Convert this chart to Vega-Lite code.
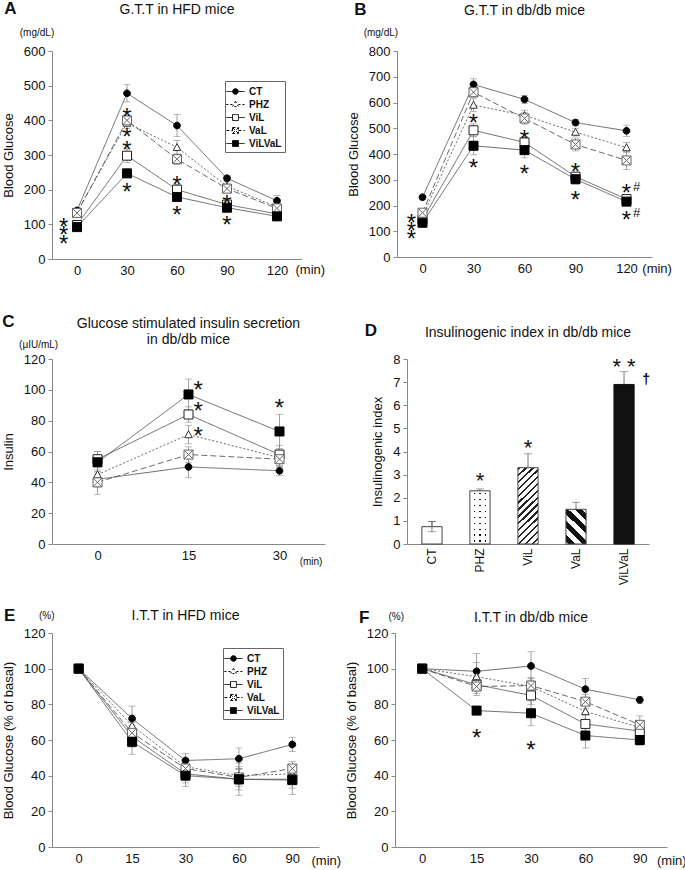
{
  "$schema": "https://vega.github.io/schema/vega-lite/v6.json",
  "padding": {"left": 2, "top": 0, "right": 0, "bottom": 0},
  "config": {
    "font": "Liberation Sans",
    "view": {"stroke": null},
    "axis": {"grid": false, "domainColor": "#888", "tickColor": "#888", "labelFontSize": 13, "labelColor": "#111", "titleFontSize": 13, "titleFontWeight": "normal", "titleColor": "#111", "titlePadding": 8},
    "axisX": {"ticks": false, "labelPadding": 5},
    "axisY": {"tickSize": 4, "labelPadding": 3},
    "title": {"fontSize": 14, "fontWeight": "normal", "color": "#111", "frame": "group"},
    "text": {"color": "#111"}
  },
  "datasets": {
    "A": [
      {"g":"CT","t":0,"v":140,"e":6},{"g":"CT","t":30,"v":478,"e":25},{"g":"CT","t":60,"v":385,"e":32},{"g":"CT","t":90,"v":233,"e":8},{"g":"CT","t":120,"v":168,"e":15},
      {"g":"PHZ","t":0,"v":135,"e":6},{"g":"PHZ","t":30,"v":392,"e":15},{"g":"PHZ","t":60,"v":322,"e":20},{"g":"PHZ","t":90,"v":210,"e":12},{"g":"PHZ","t":120,"v":150,"e":10},
      {"g":"ViL","t":0,"v":98,"e":6},{"g":"ViL","t":30,"v":298,"e":20},{"g":"ViL","t":60,"v":200,"e":15},{"g":"ViL","t":90,"v":157,"e":8},{"g":"ViL","t":120,"v":130,"e":8},
      {"g":"VaL","t":0,"v":133,"e":8},{"g":"VaL","t":30,"v":400,"e":15},{"g":"VaL","t":60,"v":288,"e":15},{"g":"VaL","t":90,"v":203,"e":12},{"g":"VaL","t":120,"v":146,"e":10},
      {"g":"ViLVaL","t":0,"v":92,"e":6},{"g":"ViLVaL","t":30,"v":247,"e":12},{"g":"ViLVaL","t":60,"v":179,"e":10},{"g":"ViLVaL","t":90,"v":148,"e":8},{"g":"ViLVaL","t":120,"v":123,"e":7}
    ],
    "B": [
      {"g":"CT","t":0,"v":232,"e":8},{"g":"CT","t":30,"v":670,"e":22},{"g":"CT","t":60,"v":612,"e":15},{"g":"CT","t":90,"v":522,"e":12},{"g":"CT","t":120,"v":490,"e":22},
      {"g":"PHZ","t":0,"v":160,"e":10},{"g":"PHZ","t":30,"v":590,"e":25},{"g":"PHZ","t":60,"v":550,"e":20},{"g":"PHZ","t":90,"v":485,"e":15},{"g":"PHZ","t":120,"v":425,"e":20},
      {"g":"ViL","t":0,"v":145,"e":12},{"g":"ViL","t":30,"v":492,"e":25},{"g":"ViL","t":60,"v":445,"e":22},{"g":"ViL","t":90,"v":312,"e":15},{"g":"ViL","t":120,"v":225,"e":15},
      {"g":"VaL","t":0,"v":172,"e":12},{"g":"VaL","t":30,"v":640,"e":20},{"g":"VaL","t":60,"v":538,"e":22},{"g":"VaL","t":90,"v":437,"e":25},{"g":"VaL","t":120,"v":375,"e":35},
      {"g":"ViLVaL","t":0,"v":133,"e":15},{"g":"ViLVaL","t":30,"v":432,"e":35},{"g":"ViLVaL","t":60,"v":415,"e":30},{"g":"ViLVaL","t":90,"v":302,"e":18},{"g":"ViLVaL","t":120,"v":215,"e":15}
    ],
    "C": [
      {"g":"CT","t":0,"v":42,"e":5},{"g":"CT","t":15,"v":50,"e":7},{"g":"CT","t":30,"v":47.5,"e":3},
      {"g":"PHZ","t":0,"v":45,"e":5},{"g":"PHZ","t":15,"v":71,"e":6},{"g":"PHZ","t":30,"v":56,"e":5},
      {"g":"ViL","t":0,"v":55,"e":5},{"g":"ViL","t":15,"v":84,"e":5},{"g":"ViL","t":30,"v":58,"e":6},
      {"g":"VaL","t":0,"v":40,"e":8},{"g":"VaL","t":15,"v":58,"e":5},{"g":"VaL","t":30,"v":55,"e":5},
      {"g":"ViLVaL","t":0,"v":53,"e":7},{"g":"ViLVaL","t":15,"v":97,"e":10},{"g":"ViLVaL","t":30,"v":73,"e":11}
    ],
    "D": [
      {"g":"CT","v":0.75,"e":0.22},{"g":"PHZ","v":2.3,"e":0.08},{"g":"ViL","v":3.3,"e":0.6},{"g":"VaL","v":1.5,"e":0.3},{"g":"ViLVaL","v":6.9,"e":0.55}
    ],
    "E": [
      {"g":"CT","t":0,"v":100,"e":0},{"g":"CT","t":15,"v":72,"e":7},{"g":"CT","t":30,"v":48.5,"e":4},{"g":"CT","t":60,"v":49.5,"e":6},{"g":"CT","t":90,"v":57.5,"e":4},
      {"g":"PHZ","t":0,"v":100,"e":0},{"g":"PHZ","t":15,"v":68,"e":6},{"g":"PHZ","t":30,"v":45,"e":4},{"g":"PHZ","t":60,"v":40,"e":5},{"g":"PHZ","t":90,"v":41,"e":4},
      {"g":"ViL","t":0,"v":100,"e":0},{"g":"ViL","t":15,"v":62,"e":6},{"g":"ViL","t":30,"v":41,"e":5},{"g":"ViL","t":60,"v":38,"e":6},{"g":"ViL","t":90,"v":38,"e":5},
      {"g":"VaL","t":0,"v":100,"e":0},{"g":"VaL","t":15,"v":64,"e":6},{"g":"VaL","t":30,"v":44,"e":5},{"g":"VaL","t":60,"v":39,"e":5},{"g":"VaL","t":90,"v":44,"e":4},
      {"g":"ViLVaL","t":0,"v":100,"e":0},{"g":"ViLVaL","t":15,"v":59,"e":7},{"g":"ViLVaL","t":30,"v":40,"e":6},{"g":"ViLVaL","t":60,"v":38,"e":9},{"g":"ViLVaL","t":90,"v":37.5,"e":8}
    ],
    "F": [
      {"g":"CT","t":0,"v":100,"e":0},{"g":"CT","t":15,"v":98.5,"e":10},{"g":"CT","t":30,"v":101.5,"e":8},{"g":"CT","t":60,"v":88.5,"e":6},{"g":"CT","t":90,"v":82.5,"e":2},
      {"g":"PHZ","t":0,"v":100,"e":0},{"g":"PHZ","t":15,"v":95.5,"e":8},{"g":"PHZ","t":30,"v":90,"e":5},{"g":"PHZ","t":60,"v":76,"e":5},{"g":"PHZ","t":90,"v":67,"e":4},
      {"g":"ViL","t":0,"v":100,"e":0},{"g":"ViL","t":15,"v":91,"e":5},{"g":"ViL","t":30,"v":85,"e":5},{"g":"ViL","t":60,"v":69,"e":5},{"g":"ViL","t":90,"v":65,"e":4},
      {"g":"VaL","t":0,"v":100,"e":0},{"g":"VaL","t":15,"v":90,"e":5},{"g":"VaL","t":30,"v":90.5,"e":4},{"g":"VaL","t":60,"v":81.5,"e":4},{"g":"VaL","t":90,"v":68.5,"e":5},
      {"g":"ViLVaL","t":0,"v":100,"e":0},{"g":"ViLVaL","t":15,"v":76.5,"e":2},{"g":"ViLVaL","t":30,"v":75,"e":7},{"g":"ViLVaL","t":60,"v":62.5,"e":7},{"g":"ViLVaL","t":90,"v":60,"e":3}
    ]
  },
  "resolve": {"scale": {"shape": "independent", "fill": "independent", "strokeDash": "independent", "stroke": "independent"}},
  "spacing": 35,
  "vconcat": [
    {
      "spacing": 21,
      "resolve": {"scale": {"shape": "independent", "fill": "independent", "strokeDash": "independent", "stroke": "independent"}},
      "hconcat": [
        {
          "width": 250, "height": 208,
          "title": {"text": "G.T.T in HFD mice", "offset": -17},
          "data": {"name": "A"},
          "encoding": {
            "x": {"field": "t", "type": "quantitative", "scale": {"domain": [-15, 135]}, "axis": {"values": [0, 30, 60, 90, 120], "title": null}},
            "y": {"field": "v", "type": "quantitative", "scale": {"domain": [0, 600]}, "axis": {"values": [0, 100, 200, 300, 400, 500, 600], "title": "Blood Glucose"}}
          },
          "resolve": {"scale": {"shape": "independent", "fill": "independent", "strokeDash": "independent", "stroke": "independent"}},
          "layer": [
            {"mark": {"type": "line", "color": "#444", "strokeWidth": 0.8},
             "encoding": {"strokeDash": {"field": "g", "type": "nominal", "scale": {"domain": ["CT","PHZ","ViL","VaL","ViLVaL"], "range": [[1,0],[2,2],[1,0],[6,3],[1,0]]}, "legend": null}}},
            {"mark": {"type": "errorbar", "ticks": true, "size": 7, "thickness": 0.8, "color": "#888"},
             "encoding": {"yError": {"field": "e"}}},
            {"mark": {"type": "point", "filled": false, "opacity": 1, "strokeWidth": 1, "size": 81},
             "encoding": {
               "shape": {"field": "g", "type": "nominal", "scale": {"domain": ["CT","PHZ","ViL","VaL","ViLVaL"], "range": ["M0.75,0A0.75,0.75,0,1,1,-0.75,0A0.75,0.75,0,1,1,0.75,0Z", "M0,-0.85L0.85,0.7H-0.85Z", "M-1,-1H1V1H-1Z", "M-1,-1H1V1H-1ZM-1,-1L1,1M1,-1L-1,1", "M-1,-1H1V1H-1Z"]}, "legend": null},
               "fill": {"field": "g", "type": "nominal", "scale": {"domain": ["CT","PHZ","ViL","VaL","ViLVaL"], "range": ["#000","#fff","#fff","#fff","#000"]}, "legend": null},
               "stroke": {"field": "g", "type": "nominal", "scale": {"domain": ["CT","PHZ","ViL","VaL","ViLVaL"], "range": ["#000","#333","#222","#666","#000"]}, "legend": null}
             }},
            {"data": {"values": [{"t":30,"v":427},{"t":30,"v":369},{"t":30,"v":332},{"t":30,"v":211},{"t":60,"v":230},{"t":60,"v":144},{"t":90,"v":176},{"t":90,"v":115},{"t":-8,"v":110},{"t":-8,"v":86},{"t":-8,"v":61}]},
             "mark": {"type": "text", "text": "*", "fontSize": 24, "baseline": "alphabetic", "dy": 14}},
            {"data": {"values": [{"t": -40, "v": 721}]}, "mark": {"type": "text", "text": "A", "fontSize": 17, "fontWeight": "bold", "baseline": "middle"}},
            {"data": {"values": [{"t": -24, "v": 651}]}, "mark": {"type": "text", "text": "(mg/dL)", "fontSize": 10, "baseline": "middle"}},
            {"data": {"values": [{"t": 140, "v": -33}]}, "mark": {"type": "text", "text": "(min)", "fontSize": 13, "baseline": "middle"}},
            {"transform": [{"filter": "false"}],
             "mark": {"type": "point", "filled": false, "opacity": 1, "color": "#000", "strokeWidth": 1},
             "encoding": {
               "shape": {"field": "g", "type": "nominal", "scale": {"domain": ["CT","PHZ","ViL","VaL","ViLVaL"], "range": ["M-1.3,0H-0.4M0.4,0H1.3M0.4,0A0.4,0.4,0,1,1,-0.4,0A0.4,0.4,0,1,1,0.4,0Z", "M-1.3,0H-0.42M0.42,0H1.3M0,-0.45L0.42,0.3H-0.42Z", "M-1.3,0H-0.42M0.42,0H1.3M-0.42,-0.42H0.42V0.42H-0.42Z", "M-1.3,0H-0.42M0.42,0H1.3M-0.42,-0.42H0.42V0.42H-0.42ZM-0.42,-0.42L0.42,0.42M0.42,-0.42L-0.42,0.42", "M-1.3,0H-0.42M0.42,0H1.3M-0.42,-0.42H0.42V0.42H-0.42Z"]},
                 "legend": {"orient": "none", "legendX": 173, "legendY": 30, "title": null, "labelFontWeight": "bold", "labelFontSize": 10, "labelColor": "#111", "symbolSize": 196, "symbolStrokeWidth": 1, "strokeColor": "#666", "fillColor": "#fff", "padding": 3, "rowPadding": 0, "labelOffset": 6}},
               "fill": {"field": "g", "type": "nominal", "scale": {"domain": ["CT","PHZ","ViL","VaL","ViLVaL"], "range": ["#000","#fff","#fff","#fff","#000"]},
                 "legend": {"orient": "none", "legendX": 173, "legendY": 30, "title": null, "labelFontWeight": "bold", "labelFontSize": 10, "labelColor": "#111", "symbolSize": 196, "symbolStrokeWidth": 1, "strokeColor": "#666", "fillColor": "#fff", "padding": 3, "rowPadding": 0, "labelOffset": 6}},
               "strokeDash": {"field": "g", "type": "nominal", "scale": {"domain": ["CT","PHZ","ViL","VaL","ViLVaL"], "range": [[1,0],[2,2],[1,0],[3,2],[1,0]]},
                 "legend": {"orient": "none", "legendX": 173, "legendY": 30, "title": null, "labelFontWeight": "bold", "labelFontSize": 10, "labelColor": "#111", "symbolSize": 196, "symbolStrokeWidth": 1, "strokeColor": "#666", "fillColor": "#fff", "padding": 3, "rowPadding": 0, "labelOffset": 6}}
             }}
          ]
        },
        {
          "width": 255, "height": 206,
          "title": {"text": "G.T.T in db/db mice", "offset": -17},
          "data": {"name": "B"},
          "encoding": {
            "x": {"field": "t", "type": "quantitative", "scale": {"domain": [-15, 135]}, "axis": {"values": [0, 30, 60, 90, 120], "title": null}},
            "y": {"field": "v", "type": "quantitative", "scale": {"domain": [0, 800]}, "axis": {"values": [0, 100, 200, 300, 400, 500, 600, 700, 800], "title": "Blood Glucose"}}
          },
          "resolve": {"scale": {"shape": "independent", "fill": "independent", "strokeDash": "independent", "stroke": "independent"}},
          "layer": [
            {"mark": {"type": "line", "color": "#444", "strokeWidth": 0.8},
             "encoding": {"strokeDash": {"field": "g", "type": "nominal", "scale": {"domain": ["CT","PHZ","ViL","VaL","ViLVaL"], "range": [[1,0],[2,2],[1,0],[6,3],[1,0]]}, "legend": null}}},
            {"mark": {"type": "errorbar", "ticks": true, "size": 7, "thickness": 0.8, "color": "#888"},
             "encoding": {"yError": {"field": "e"}}},
            {"mark": {"type": "point", "filled": false, "opacity": 1, "strokeWidth": 1, "size": 81},
             "encoding": {
               "shape": {"field": "g", "type": "nominal", "scale": {"domain": ["CT","PHZ","ViL","VaL","ViLVaL"], "range": ["M0.75,0A0.75,0.75,0,1,1,-0.75,0A0.75,0.75,0,1,1,0.75,0Z", "M0,-0.85L0.85,0.7H-0.85Z", "M-1,-1H1V1H-1Z", "M-1,-1H1V1H-1ZM-1,-1L1,1M1,-1L-1,1", "M-1,-1H1V1H-1Z"]}, "legend": null},
               "fill": {"field": "g", "type": "nominal", "scale": {"domain": ["CT","PHZ","ViL","VaL","ViLVaL"], "range": ["#000","#fff","#fff","#fff","#000"]}, "legend": null},
               "stroke": {"field": "g", "type": "nominal", "scale": {"domain": ["CT","PHZ","ViL","VaL","ViLVaL"], "range": ["#000","#333","#222","#666","#000"]}, "legend": null}
             }},
            {"data": {"values": [{"t":-6.5,"v":155},{"t":-6.5,"v":125},{"t":-6.5,"v":95},{"t":30,"v":542},{"t":30,"v":367},{"t":60,"v":483},{"t":60,"v":346},{"t":90,"v":353},{"t":90,"v":246},{"t":120,"v":270},{"t":120,"v":168}]},
             "mark": {"type": "text", "text": "*", "fontSize": 24, "baseline": "alphabetic", "dy": 14}},
            {"data": {"values": [{"t":126,"v":272},{"t":126,"v":170}]},
             "mark": {"type": "text", "text": "#", "fontSize": 13, "baseline": "middle"}},
            {"data": {"values": [{"t": -36.6, "v": 959}]}, "mark": {"type": "text", "text": "B", "fontSize": 17, "fontWeight": "bold", "baseline": "middle"}},
            {"data": {"values": [{"t": -24.5, "v": 869}]}, "mark": {"type": "text", "text": "(mg/dL)", "fontSize": 10, "baseline": "middle"}},
            {"data": {"values": [{"t": 138, "v": -48}]}, "mark": {"type": "text", "text": "(min)", "fontSize": 13, "baseline": "middle"}}
          ]
        }
      ]
    },
    {
      "spacing": 21,
      "resolve": {"scale": {"shape": "independent", "fill": "independent", "strokeDash": "independent", "stroke": "independent"}},
      "vconcat": [
        {
          "spacing": 39,
          "resolve": {"scale": {"shape": "independent", "fill": "independent", "strokeDash": "independent", "stroke": "independent"}},
          "hconcat": [
            {
              "width": 273, "height": 185,
              "title": {"text": ["Glucose stimulated insulin secretion", "in db/db mice"], "offset": -34},
              "data": {"name": "C"},
              "encoding": {
                "x": {"field": "t", "type": "quantitative", "scale": {"domain": [-7.5, 37.5]}, "axis": {"values": [0, 15, 30], "title": null}},
                "y": {"field": "v", "type": "quantitative", "scale": {"domain": [0, 120]}, "axis": {"values": [0, 20, 40, 60, 80, 100, 120], "title": "Insulin"}}
              },
              "resolve": {"scale": {"shape": "independent", "fill": "independent", "strokeDash": "independent", "stroke": "independent"}},
              "layer": [
                {"mark": {"type": "line", "color": "#444", "strokeWidth": 0.8},
                 "encoding": {"strokeDash": {"field": "g", "type": "nominal", "scale": {"domain": ["CT","PHZ","ViL","VaL","ViLVaL"], "range": [[1,0],[2,2],[1,0],[6,3],[1,0]]}, "legend": null}}},
                {"mark": {"type": "errorbar", "ticks": true, "size": 7, "thickness": 0.8, "color": "#888"},
                 "encoding": {"yError": {"field": "e"}}},
                {"mark": {"type": "point", "filled": false, "opacity": 1, "strokeWidth": 1, "size": 81},
                 "encoding": {
                   "shape": {"field": "g", "type": "nominal", "scale": {"domain": ["CT","PHZ","ViL","VaL","ViLVaL"], "range": ["M0.75,0A0.75,0.75,0,1,1,-0.75,0A0.75,0.75,0,1,1,0.75,0Z", "M0,-0.85L0.85,0.7H-0.85Z", "M-1,-1H1V1H-1Z", "M-1,-1H1V1H-1ZM-1,-1L1,1M1,-1L-1,1", "M-1,-1H1V1H-1Z"]}, "legend": null},
                   "fill": {"field": "g", "type": "nominal", "scale": {"domain": ["CT","PHZ","ViL","VaL","ViLVaL"], "range": ["#000","#fff","#fff","#fff","#000"]}, "legend": null},
                   "stroke": {"field": "g", "type": "nominal", "scale": {"domain": ["CT","PHZ","ViL","VaL","ViLVaL"], "range": ["#000","#333","#222","#666","#000"]}, "legend": null}
                 }},
                {"data": {"values": [{"t":16.6,"v":104},{"t":16.6,"v":90},{"t":16.6,"v":74},{"t":30,"v":92}]},
                 "mark": {"type": "text", "text": "*", "fontSize": 24, "baseline": "alphabetic", "dy": 14}},
                {"data": {"values": [{"t": -14.7, "v": 143.7}]}, "mark": {"type": "text", "text": "C", "fontSize": 17, "fontWeight": "bold", "baseline": "middle"}},
                {"data": {"values": [{"t": -9.7, "v": 129.4}]}, "mark": {"type": "text", "text": "(μIU/mL)", "fontSize": 10, "baseline": "middle"}},
                {"data": {"values": [{"t": 35.2, "v": -11.7}]}, "mark": {"type": "text", "text": "(min)", "fontSize": 10, "baseline": "middle"}}
              ]
            },
            {
              "width": 242, "height": 185,
              "title": {"text": "Insulinogenic index in db/db mice", "offset": -18},
              "data": {"name": "D"},
              "encoding": {
                "x": {"field": "g", "type": "nominal", "scale": {"domain": ["CT","PHZ","ViL","VaL","ViLVaL"], "paddingInner": 0.58, "paddingOuter": 0.31}, "axis": {"labelAngle": -90, "title": null, "labelPadding": 4, "labelFontSize": 12}},
                "y": {"field": "v", "type": "quantitative", "scale": {"domain": [0, 8]}, "axis": {"values": [0, 1, 2, 3, 4, 5, 6, 7, 8], "title": "Insulinogenic index"}}
              },
              "layer": [
                {"mark": {"type": "errorbar", "ticks": true, "size": 8, "thickness": 0.9, "color": "#666"},
                 "encoding": {"yError": {"field": "e"}}},
                {"transform": [{"filter": "datum.g === 'CT'"}],
                 "mark": {"type": "bar", "fill": "#fff", "stroke": "#444", "strokeWidth": 1}},
                {"transform": [{"filter": "datum.g === 'PHZ'"}],
                 "mark": {"type": "bar", "strokeWidth": 0, "fill": {"gradient": "linear", "x1": 0, "y1": 0, "x2": 1, "y2": 0, "stops": [
                   {"offset": 0, "color": "#fff"}, {"offset": 0.2, "color": "#fff"}, {"offset": 0.2, "color": "#111"}, {"offset": 0.26, "color": "#111"}, {"offset": 0.26, "color": "#fff"},
                   {"offset": 0.47, "color": "#fff"}, {"offset": 0.47, "color": "#111"}, {"offset": 0.53, "color": "#111"}, {"offset": 0.53, "color": "#fff"},
                   {"offset": 0.74, "color": "#fff"}, {"offset": 0.74, "color": "#111"}, {"offset": 0.8, "color": "#111"}, {"offset": 0.8, "color": "#fff"}, {"offset": 1, "color": "#fff"}]}}},
                {"transform": [{"filter": "datum.g === 'PHZ'"}],
                 "mark": {"type": "bar", "stroke": "#444", "strokeWidth": 1, "fill": {"gradient": "linear", "x1": 0, "y1": 0, "x2": 0, "y2": 1, "stops": [
                   {"offset": 0, "color": "#fff"}, {"offset": 0.0436, "color": "#fff"}, {"offset": 0.0436, "color": "rgba(255,255,255,0)"}, {"offset": 0.0676, "color": "rgba(255,255,255,0)"}, {"offset": 0.0676, "color": "#fff"},
                   {"offset": 0.1547, "color": "#fff"}, {"offset": 0.1547, "color": "rgba(255,255,255,0)"}, {"offset": 0.1787, "color": "rgba(255,255,255,0)"}, {"offset": 0.1787, "color": "#fff"},
                   {"offset": 0.2658, "color": "#fff"}, {"offset": 0.2658, "color": "rgba(255,255,255,0)"}, {"offset": 0.2898, "color": "rgba(255,255,255,0)"}, {"offset": 0.2898, "color": "#fff"},
                   {"offset": 0.3769, "color": "#fff"}, {"offset": 0.3769, "color": "rgba(255,255,255,0)"}, {"offset": 0.4009, "color": "rgba(255,255,255,0)"}, {"offset": 0.4009, "color": "#fff"},
                   {"offset": 0.488, "color": "#fff"}, {"offset": 0.488, "color": "rgba(255,255,255,0)"}, {"offset": 0.512, "color": "rgba(255,255,255,0)"}, {"offset": 0.512, "color": "#fff"},
                   {"offset": 0.5991, "color": "#fff"}, {"offset": 0.5991, "color": "rgba(255,255,255,0)"}, {"offset": 0.6231, "color": "rgba(255,255,255,0)"}, {"offset": 0.6231, "color": "#fff"},
                   {"offset": 0.7102, "color": "#fff"}, {"offset": 0.7102, "color": "rgba(255,255,255,0)"}, {"offset": 0.7342, "color": "rgba(255,255,255,0)"}, {"offset": 0.7342, "color": "#fff"},
                   {"offset": 0.8213, "color": "#fff"}, {"offset": 0.8213, "color": "rgba(255,255,255,0)"}, {"offset": 0.8453, "color": "rgba(255,255,255,0)"}, {"offset": 0.8453, "color": "#fff"},
                   {"offset": 0.9324, "color": "#fff"}, {"offset": 0.9324, "color": "rgba(255,255,255,0)"}, {"offset": 0.9564, "color": "rgba(255,255,255,0)"}, {"offset": 0.9564, "color": "#fff"}, {"offset": 1, "color": "#fff"}]}}},
                {"transform": [{"filter": "datum.g === 'ViL'"}],
                 "mark": {"type": "bar", "stroke": "#444", "strokeWidth": 1, "fill": {"gradient": "linear", "x1": 0, "y1": 0, "x2": 0.304, "y2": 1.18, "stops": [
                   {"offset": 0, "color": "#222"}, {"offset": 0.025, "color": "#222"}, {"offset": 0.025, "color": "#fff"},
                   {"offset": 0.0714, "color": "#fff"}, {"offset": 0.0714, "color": "#222"}, {"offset": 0.0964, "color": "#222"}, {"offset": 0.0964, "color": "#fff"},
                   {"offset": 0.1429, "color": "#fff"}, {"offset": 0.1429, "color": "#222"}, {"offset": 0.1679, "color": "#222"}, {"offset": 0.1679, "color": "#fff"},
                   {"offset": 0.2143, "color": "#fff"}, {"offset": 0.2143, "color": "#222"}, {"offset": 0.2393, "color": "#222"}, {"offset": 0.2393, "color": "#fff"},
                   {"offset": 0.2857, "color": "#fff"}, {"offset": 0.2857, "color": "#222"}, {"offset": 0.3107, "color": "#222"}, {"offset": 0.3107, "color": "#fff"},
                   {"offset": 0.3571, "color": "#fff"}, {"offset": 0.3571, "color": "#222"}, {"offset": 0.3821, "color": "#222"}, {"offset": 0.3821, "color": "#fff"},
                   {"offset": 0.4286, "color": "#fff"}, {"offset": 0.4286, "color": "#222"}, {"offset": 0.4536, "color": "#222"}, {"offset": 0.4536, "color": "#fff"},
                   {"offset": 0.5, "color": "#fff"}, {"offset": 0.5, "color": "#222"}, {"offset": 0.525, "color": "#222"}, {"offset": 0.525, "color": "#fff"},
                   {"offset": 0.5714, "color": "#fff"}, {"offset": 0.5714, "color": "#222"}, {"offset": 0.5964, "color": "#222"}, {"offset": 0.5964, "color": "#fff"},
                   {"offset": 0.6429, "color": "#fff"}, {"offset": 0.6429, "color": "#222"}, {"offset": 0.6679, "color": "#222"}, {"offset": 0.6679, "color": "#fff"},
                   {"offset": 0.7143, "color": "#fff"}, {"offset": 0.7143, "color": "#222"}, {"offset": 0.7393, "color": "#222"}, {"offset": 0.7393, "color": "#fff"},
                   {"offset": 0.7857, "color": "#fff"}, {"offset": 0.7857, "color": "#222"}, {"offset": 0.8107, "color": "#222"}, {"offset": 0.8107, "color": "#fff"},
                   {"offset": 0.8571, "color": "#fff"}, {"offset": 0.8571, "color": "#222"}, {"offset": 0.8821, "color": "#222"}, {"offset": 0.8821, "color": "#fff"},
                   {"offset": 0.9286, "color": "#fff"}, {"offset": 0.9286, "color": "#222"}, {"offset": 0.9536, "color": "#222"}, {"offset": 0.9536, "color": "#fff"}, {"offset": 1, "color": "#fff"}]}}},
                {"transform": [{"filter": "datum.g === 'VaL'"}],
                 "mark": {"type": "bar", "stroke": "#444", "strokeWidth": 1, "fill": {"gradient": "linear", "x1": 0, "y1": 1, "x2": 0.672, "y2": -0.186, "stops": [
                   {"offset": 0, "color": "#fff"}, {"offset": 0.05, "color": "#fff"}, {"offset": 0.05, "color": "#111"}, {"offset": 0.18, "color": "#111"}, {"offset": 0.18, "color": "#fff"},
                   {"offset": 0.3, "color": "#fff"}, {"offset": 0.3, "color": "#111"}, {"offset": 0.43, "color": "#111"}, {"offset": 0.43, "color": "#fff"},
                   {"offset": 0.55, "color": "#fff"}, {"offset": 0.55, "color": "#111"}, {"offset": 0.68, "color": "#111"}, {"offset": 0.68, "color": "#fff"},
                   {"offset": 0.8, "color": "#fff"}, {"offset": 0.8, "color": "#111"}, {"offset": 0.93, "color": "#111"}, {"offset": 0.93, "color": "#fff"}, {"offset": 1, "color": "#fff"}]}}},
                {"transform": [{"filter": "datum.g === 'ViLVaL'"}],
                 "mark": {"type": "bar", "fill": "#111", "stroke": "#111", "strokeWidth": 1}},
                {"transform": [{"filter": "datum.g === 'CT'"}],
                 "mark": {"type": "errorbar", "ticks": true, "size": 8, "thickness": 0.9, "color": "#666"},
                 "encoding": {"yError": {"field": "e"}}},
                {"data": {"values": [{"g":"PHZ","v":3.0,"s":"*"},{"g":"ViL","v":4.4,"s":"*"},{"g":"ViLVaL","v":7.9,"s":"* *"}]},
                 "mark": {"type": "text", "fontSize": 22, "baseline": "alphabetic", "dy": 13, "fill": "#111"},
                 "encoding": {"text": {"field": "s"}}},
                {"data": {"values": [{"g":"ViLVaL","v":7.1}]},
                 "mark": {"type": "text", "text": "†", "fontSize": 14, "fontWeight": "bold", "baseline": "middle", "dx": 22, "fill": "#000"}},
                {"data": {"values": [{"g":"CT","v":9.2}]},
                 "mark": {"type": "text", "text": "D", "fontSize": 17, "fontWeight": "bold", "baseline": "middle", "dx": -61}}
              ]
            }
          ]
        },
        {
          "spacing": 3,
          "resolve": {"scale": {"shape": "independent", "fill": "independent", "strokeDash": "independent", "stroke": "independent"}},
          "hconcat": [
            {
              "width": 267, "height": 214,
              "title": {"text": "I.T.T in HFD mice", "offset": -16},
              "data": {"name": "E"},
              "encoding": {
                "x": {"field": "t", "type": "ordinal", "scale": {"type": "point", "padding": 0.5, "domain": [0, 15, 30, 60, 90]}, "axis": {"labelAngle": 0, "title": null}},
                "y": {"field": "v", "type": "quantitative", "scale": {"domain": [0, 120]}, "axis": {"values": [0, 20, 40, 60, 80, 100, 120], "title": "Blood Glucose (% of basal)"}}
              },
              "resolve": {"scale": {"shape": "independent", "fill": "independent", "strokeDash": "independent", "stroke": "independent"}},
              "layer": [
                {"mark": {"type": "line", "color": "#444", "strokeWidth": 0.8},
                 "encoding": {"strokeDash": {"field": "g", "type": "nominal", "scale": {"domain": ["CT","PHZ","ViL","VaL","ViLVaL"], "range": [[1,0],[2,2],[1,0],[6,3],[1,0]]}, "legend": null}}},
                {"mark": {"type": "errorbar", "ticks": true, "size": 7, "thickness": 0.8, "color": "#888"},
                 "encoding": {"yError": {"field": "e"}}},
                {"mark": {"type": "point", "filled": false, "opacity": 1, "strokeWidth": 1, "size": 81},
                 "encoding": {
                   "shape": {"field": "g", "type": "nominal", "scale": {"domain": ["CT","PHZ","ViL","VaL","ViLVaL"], "range": ["M0.75,0A0.75,0.75,0,1,1,-0.75,0A0.75,0.75,0,1,1,0.75,0Z", "M0,-0.85L0.85,0.7H-0.85Z", "M-1,-1H1V1H-1Z", "M-1,-1H1V1H-1ZM-1,-1L1,1M1,-1L-1,1", "M-1,-1H1V1H-1Z"]}, "legend": null},
                   "fill": {"field": "g", "type": "nominal", "scale": {"domain": ["CT","PHZ","ViL","VaL","ViLVaL"], "range": ["#000","#fff","#fff","#fff","#000"]}, "legend": null},
                   "stroke": {"field": "g", "type": "nominal", "scale": {"domain": ["CT","PHZ","ViL","VaL","ViLVaL"], "range": ["#000","#333","#222","#666","#000"]}, "legend": null}
                 }},
                {"data": {"values": [{"t": 0, "v": 129.6}]}, "mark": {"type": "text", "text": "E", "fontSize": 17, "fontWeight": "bold", "baseline": "middle", "dx": -69}},
                {"data": {"values": [{"t": 0, "v": 129.4}]}, "mark": {"type": "text", "text": "(%)", "fontSize": 10, "baseline": "middle", "dx": -32}},
                {"data": {"values": [{"t": 90, "v": -8}]}, "mark": {"type": "text", "text": "(min)", "fontSize": 13, "baseline": "middle", "dx": 34}},
                {"transform": [{"filter": "false"}],
                 "mark": {"type": "point", "filled": false, "opacity": 1, "color": "#000", "strokeWidth": 1},
                 "encoding": {
                   "shape": {"field": "g", "type": "nominal", "scale": {"domain": ["CT","PHZ","ViL","VaL","ViLVaL"], "range": ["M-1.3,0H-0.4M0.4,0H1.3M0.4,0A0.4,0.4,0,1,1,-0.4,0A0.4,0.4,0,1,1,0.4,0Z", "M-1.3,0H-0.42M0.42,0H1.3M0,-0.45L0.42,0.3H-0.42Z", "M-1.3,0H-0.42M0.42,0H1.3M-0.42,-0.42H0.42V0.42H-0.42Z", "M-1.3,0H-0.42M0.42,0H1.3M-0.42,-0.42H0.42V0.42H-0.42ZM-0.42,-0.42L0.42,0.42M0.42,-0.42L-0.42,0.42", "M-1.3,0H-0.42M0.42,0H1.3M-0.42,-0.42H0.42V0.42H-0.42Z"]},
                     "legend": {"orient": "none", "legendX": 171, "legendY": 15, "title": null, "labelFontWeight": "bold", "labelFontSize": 10, "labelColor": "#111", "symbolSize": 196, "symbolStrokeWidth": 1, "strokeColor": "#666", "fillColor": "#fff", "padding": 3, "rowPadding": 0, "labelOffset": 6}},
                   "fill": {"field": "g", "type": "nominal", "scale": {"domain": ["CT","PHZ","ViL","VaL","ViLVaL"], "range": ["#000","#fff","#fff","#fff","#000"]},
                     "legend": {"orient": "none", "legendX": 171, "legendY": 15, "title": null, "labelFontWeight": "bold", "labelFontSize": 10, "labelColor": "#111", "symbolSize": 196, "symbolStrokeWidth": 1, "strokeColor": "#666", "fillColor": "#fff", "padding": 3, "rowPadding": 0, "labelOffset": 6}},
                   "strokeDash": {"field": "g", "type": "nominal", "scale": {"domain": ["CT","PHZ","ViL","VaL","ViLVaL"], "range": [[1,0],[2,2],[1,0],[3,2],[1,0]]},
                     "legend": {"orient": "none", "legendX": 171, "legendY": 15, "title": null, "labelFontWeight": "bold", "labelFontSize": 10, "labelColor": "#111", "symbolSize": 196, "symbolStrokeWidth": 1, "strokeColor": "#666", "fillColor": "#fff", "padding": 3, "rowPadding": 0, "labelOffset": 6}}
                 }}
              ]
            },
            {
              "width": 272, "height": 214,
              "title": {"text": "I.T.T in db/db mice", "offset": -16},
              "data": {"name": "F"},
              "encoding": {
                "x": {"field": "t", "type": "ordinal", "scale": {"type": "point", "padding": 0.5, "domain": [0, 15, 30, 60, 90]}, "axis": {"labelAngle": 0, "title": null}},
                "y": {"field": "v", "type": "quantitative", "scale": {"domain": [0, 120]}, "axis": {"values": [0, 20, 40, 60, 80, 100, 120], "title": "Blood Glucose (% of basal)"}}
              },
              "resolve": {"scale": {"shape": "independent", "fill": "independent", "strokeDash": "independent", "stroke": "independent"}},
              "layer": [
                {"mark": {"type": "line", "color": "#444", "strokeWidth": 0.8},
                 "encoding": {"strokeDash": {"field": "g", "type": "nominal", "scale": {"domain": ["CT","PHZ","ViL","VaL","ViLVaL"], "range": [[1,0],[2,2],[1,0],[6,3],[1,0]]}, "legend": null}}},
                {"mark": {"type": "errorbar", "ticks": true, "size": 7, "thickness": 0.8, "color": "#888"},
                 "encoding": {"yError": {"field": "e"}}},
                {"mark": {"type": "point", "filled": false, "opacity": 1, "strokeWidth": 1, "size": 81},
                 "encoding": {
                   "shape": {"field": "g", "type": "nominal", "scale": {"domain": ["CT","PHZ","ViL","VaL","ViLVaL"], "range": ["M0.75,0A0.75,0.75,0,1,1,-0.75,0A0.75,0.75,0,1,1,0.75,0Z", "M0,-0.85L0.85,0.7H-0.85Z", "M-1,-1H1V1H-1Z", "M-1,-1H1V1H-1ZM-1,-1L1,1M1,-1L-1,1", "M-1,-1H1V1H-1Z"]}, "legend": null},
                   "fill": {"field": "g", "type": "nominal", "scale": {"domain": ["CT","PHZ","ViL","VaL","ViLVaL"], "range": ["#000","#fff","#fff","#fff","#000"]}, "legend": null},
                   "stroke": {"field": "g", "type": "nominal", "scale": {"domain": ["CT","PHZ","ViL","VaL","ViLVaL"], "range": ["#000","#333","#222","#666","#000"]}, "legend": null}
                 }},
                {"data": {"values": [{"t": 15, "v": 64.6}, {"t": 30, "v": 58}]},
                 "mark": {"type": "text", "text": "*", "fontSize": 24, "baseline": "alphabetic", "dy": 14}},
                {"data": {"values": [{"t": 0, "v": 128.6}]}, "mark": {"type": "text", "text": "F", "fontSize": 17, "fontWeight": "bold", "baseline": "middle", "dx": -58}},
                {"data": {"values": [{"t": 0, "v": 129}]}, "mark": {"type": "text", "text": "(%)", "fontSize": 10, "baseline": "middle", "dx": -26}},
                {"data": {"values": [{"t": 90, "v": -8}]}, "mark": {"type": "text", "text": "(min)", "fontSize": 13, "baseline": "middle", "dx": 32}}
              ]
            }
          ]
        }
      ]
    }
  ]
}
